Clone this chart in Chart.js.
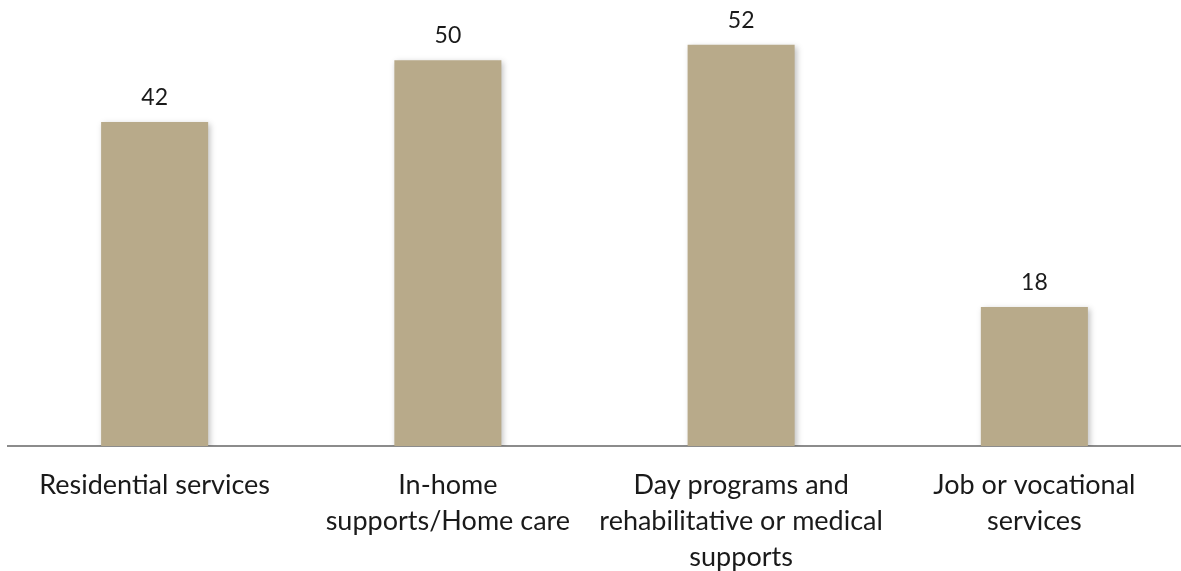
<!DOCTYPE html>
<html>
<head>
<meta charset="utf-8">
<script src="https://cdn.jsdelivr.net/npm/chart.js@4.4.1/dist/chart.umd.min.js"></script>
<style>
  html, body { margin: 0; padding: 0; background: #ffffff; }
  #chart { display: block; }
</style>
</head>
<body>
<canvas id="chart" width="1181" height="571"></canvas>
<script>
const categories = [
  ['Residential services'],
  ['In-home', 'supports/Home care'],
  ['Day programs and', 'rehabilitative or medical', 'supports'],
  ['Job or vocational', 'services']
];
const values = [42, 50, 52, 18];

const BAR_COLOR = '#b8aa8a';
const TEXT_COLOR = '#1a1a1a';

// value labels above each bar, positioned from the bar elements
const valueLabels = {
  id: 'valueLabels',
  afterDatasetsDraw(chart) {
    const ctx = chart.ctx;
    const meta = chart.getDatasetMeta(0);
    ctx.save();
    ctx.font = '23px Lato, "Noto Sans", sans-serif';
    ctx.fillStyle = TEXT_COLOR;
    ctx.textAlign = 'center';
    ctx.textBaseline = 'bottom';
    meta.data.forEach((bar, i) => {
      ctx.fillText(values[i], bar.x, bar.y - 13);
    });
    ctx.restore();
  }
};

// soft shadow like the original bars
const barShadow = {
  id: 'barShadow',
  beforeDatasetsDraw(chart) {
    const ctx = chart.ctx;
    ctx.save();
    ctx.shadowColor = 'rgba(0, 0, 0, 0.25)';
    ctx.shadowBlur = 6;
    ctx.shadowOffsetX = 2;
    ctx.shadowOffsetY = 2;
  },
  afterDatasetsDraw(chart) {
    chart.ctx.restore();
  }
};

new Chart(document.getElementById('chart'), {
  type: 'bar',
  data: {
    labels: categories,
    datasets: [{
      data: values,
      backgroundColor: BAR_COLOR,
      borderWidth: 0,
      barPercentage: 0.365,
      categoryPercentage: 1
    }]
  },
  options: {
    responsive: false,
    animation: false,
    layout: { padding: { left: 8, right: 0, top: 0, bottom: 0 } },
    plugins: {
      legend: { display: false },
      tooltip: { enabled: false }
    },
    scales: {
      x: {
        grid: { display: false, drawTicks: false },
        border: { display: true, color: '#8c8c8c', width: 2 },
        ticks: {
          color: TEXT_COLOR,
          font: { family: 'Lato, "Noto Sans", sans-serif', size: 27, lineHeight: 1.333 },
          padding: 21,
          maxRotation: 0,
          autoSkip: false
        },
        afterFit(scale) { scale.height = 125; }
      },
      y: {
        display: false,
        min: 0,
        max: 57.8
      }
    }
  },
  plugins: [barShadow, valueLabels]
});
</script>
</body>
</html>
